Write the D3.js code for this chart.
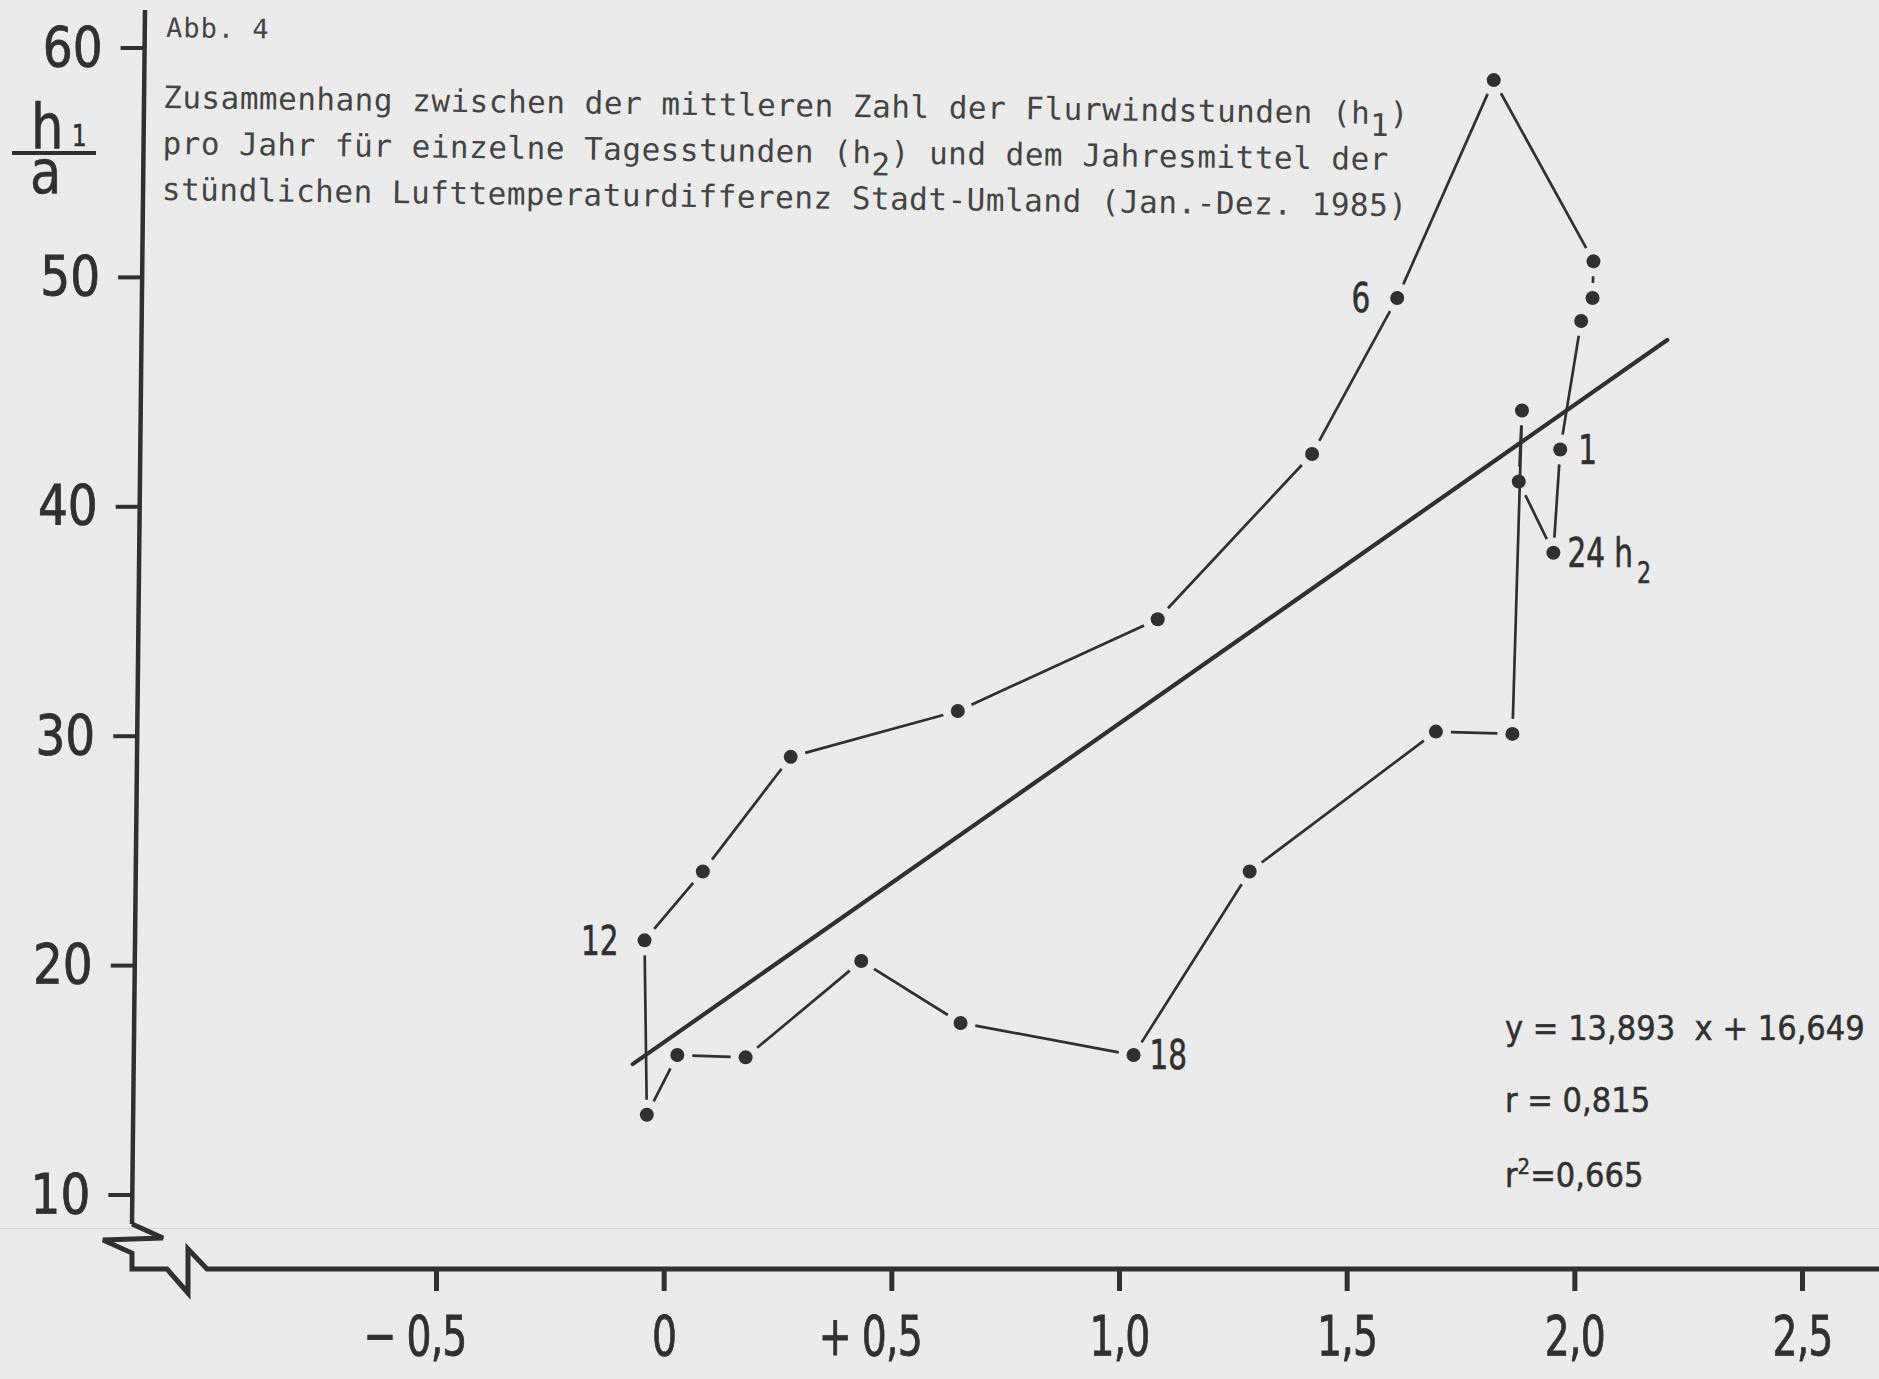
<!DOCTYPE html>
<html>
<head>
<meta charset="utf-8">
<script src="https://cdn.jsdelivr.net/npm/d3@7/dist/d3.min.js"></script>
<style>
  html, body { margin: 0; padding: 0; background: #ebebeb; }
  svg { display: block; }
  .mono { font-family: "DejaVu Sans Mono", "Liberation Mono", monospace; }
  .din { font-family: "DejaVu Sans Condensed", "DejaVu Sans", sans-serif; font-stretch: condensed; }
</style>
</head>
<body>
<div id="chart"></div>
<script>
// hour of the day (h2), 1 ... 24
const hours = [1, 2, 3, 4, 5, 6, 7, 8, 9, 10, 11, 12, 13, 14, 15, 16, 17, 18, 19, 20, 21, 22, 23, 24];
// annual mean of the hourly air temperature difference city - surroundings (K)
const tempDiff = [1.969, 2.015, 2.040, 2.042, 1.823, 1.611, 1.424, 1.085, 0.646, 0.279, 0.086, -0.042,
                  -0.037, 0.030, 0.180, 0.434, 0.652, 1.032, 1.287, 1.696, 1.864, 1.885, 1.878, 1.954];
// mean number of country-breeze hours per year (h1/a)
const windHours = [42.5, 48.1, 49.1, 50.7, 58.6, 49.1, 42.3, 35.1, 31.1, 29.1, 24.1, 21.1,
                   13.5, 16.1, 16.0, 20.2, 17.5, 16.1, 24.1, 30.2, 30.1, 44.2, 41.1, 38.0];

const labelledHours = [1, 6, 12, 18, 24];

// regression line y = 13,893 x + 16,649, drawn over the span of the data
const regSlope = 13.893;
const regIntercept = 16.649;
const regRange = [-0.068, 2.204];
const statLines = ["y = 13,893  x + 16,649", "r = 0,815", "=0,665"];

const xTicks = [-0.5, 0, 0.5, 1.0, 1.5, 2.0, 2.5];
const xTickLabels = ["0,5", "0", "0,5", "1,0", "1,5", "2,0", "2,5"];
const xTickSigns = ["\u2212", "", "+", "", "", "", ""];
const yTicks = [10, 20, 30, 40, 50, 60];

const titleLines = [
  ["Zusammenhang zwischen der mittleren Zahl der Flurwindstunden (h", "1", ")"],
  ["pro Jahr für einzelne Tagesstunden (h", "2", ") und dem Jahresmittel der"],
  ["stündlichen Lufttemperaturdifferenz Stadt-Umland (Jan.-Dez. 1985)", "", ""]
];

const W = 1879, H = 1379;
const ink = "#303030";

const svg = d3.select("#chart").append("svg")
  .attr("width", W)
  .attr("height", H);

svg.append("rect").attr("width", W).attr("height", H).attr("fill", "#ebebeb");
// faint scan line across the sheet
svg.append("line")
  .attr("x1", 0).attr("x2", W).attr("y1", 1228.5).attr("y2", 1228.5)
  .attr("stroke", "#d6d6d6").attr("stroke-width", 1);

const x = d3.scaleLinear().domain([-0.5, 2.5]).range([436, 1802]);
const y = d3.scaleLinear().domain([10, 60]).range([1195, 48]);

const baseY = 1269;
const sx = 0.78; // narrow stencil lettering

// the hand-drawn y axis leans a little to the right at the top
const axisTop = [145, 10], axisBottom = [132, 1224];
const axisXAt = py => axisBottom[0] + (axisBottom[1] - py) * (axisTop[0] - axisBottom[0]) / (axisBottom[1] - axisTop[1]);

// y axis
const ySx = 0.95;
const yAxis = svg.append("g")
  .call(d3.axisLeft(y).tickValues(yTicks).tickSize(24).tickPadding(18));
yAxis.select(".domain").remove();
yAxis.selectAll(".tick").attr("transform", d => `translate(${axisXAt(y(d))},${y(d)})`);
yAxis.selectAll(".tick line").attr("stroke", ink).attr("stroke-width", 4);
yAxis.selectAll(".tick text")
  .attr("class", "din")
  .attr("font-size", 55)
  .attr("fill", ink)
  .attr("stroke", ink)
  .attr("stroke-width", 0.8)
  .attr("x", -42 / ySx)
  .attr("transform", `scale(${ySx},1)`);

svg.append("line")
  .attr("x1", axisTop[0]).attr("y1", axisTop[1])
  .attr("x2", axisBottom[0]).attr("y2", axisBottom[1])
  .attr("stroke", ink).attr("stroke-width", 4.5);

// x axis
const xAxis = svg.append("g")
  .attr("transform", `translate(0,${baseY})`)
  .call(d3.axisBottom(x).tickValues(xTicks).tickSize(22).tickPadding(24)
    .tickFormat((d, i) => xTickLabels[i]));
xAxis.select(".domain").remove();
xAxis.selectAll(".tick line").attr("stroke", ink).attr("stroke-width", 5);
xAxis.selectAll(".tick text")
  .attr("class", "din")
  .attr("font-size", 56)
  .attr("fill", ink)
  .attr("stroke", ink)
  .attr("stroke-width", 0.8)
  .attr("letter-spacing", -1)
  .attr("transform", `scale(${sx},1)`);

xAxis.selectAll(".tick").each(function(d, i) {
  if (!xTickSigns[i]) return;
  const t = d3.select(this).select("text");
  const half = t.node().getComputedTextLength() * sx / 2;
  d3.select(this).append("text")
    .attr("class", "din")
    .attr("font-size", 56)
    .attr("fill", ink)
    .attr("stroke", ink)
    .attr("stroke-width", 0.8)
    .attr("text-anchor", "end")
    .attr("x", -(half + 10) / sx)
    .attr("y", 46)
    .attr("dy", "0.71em")
    .attr("transform", `scale(${sx},1)`)
    .text(xTickSigns[i]);
});

// broken axes corner
const breakPts = [axisBottom, [163, 1238], [103, 1240], [axisBottom[0], 1253], [axisBottom[0], baseY],
                  [167, baseY], [188, 1293], [188, 1249], [207, baseY], [W, baseY]];
svg.append("path")
  .attr("d", d3.line()(breakPts))
  .attr("fill", "none")
  .attr("stroke", ink)
  .attr("stroke-width", 5)
  .attr("stroke-linejoin", "miter");

// y axis unit h1 / a
const unit = svg.append("g").attr("class", "din").attr("fill", ink)
  .attr("stroke", ink).attr("stroke-width", 0.6);
unit.append("text").attr("transform", "translate(31,148) scale(0.92,1)")
  .attr("font-size", 62).text("h");
unit.append("text").attr("transform", "translate(72,146) scale(0.85,1)")
  .attr("font-size", 30).text("1");
unit.append("line").attr("x1", 12).attr("x2", 96).attr("y1", 153).attr("y2", 153)
  .attr("stroke-width", 4);
unit.append("text").attr("transform", "translate(30,193) scale(0.95,1)")
  .attr("font-size", 60).text("a");

// title block (typewriter, slightly skewed on the page)
const title = svg.append("g")
  .attr("class", "mono")
  .attr("fill", "#444444")
  .attr("transform", "rotate(0.75,163,108)");
title.append("text").attr("x", 165).attr("y", 37).attr("font-size", 27)
  .attr("letter-spacing", 1).text("Abb. 4");
titleLines.forEach((ln, i) => {
  const t = title.append("text")
    .attr("x", 163)
    .attr("y", 108 + i * 46)
    .attr("font-size", 31)
    .attr("letter-spacing", 0.5)
    .style("white-space", "pre");
  t.append("tspan").text(ln[0]);
  if (ln[1]) t.append("tspan").attr("dy", 12).text(ln[1]);
  if (ln[2]) t.append("tspan").attr("dy", -12).text(ln[2]);
});

// regression line
svg.append("line")
  .attr("x1", x(regRange[0])).attr("y1", y(regSlope * regRange[0] + regIntercept))
  .attr("x2", x(regRange[1])).attr("y2", y(regSlope * regRange[1] + regIntercept))
  .attr("stroke", ink)
  .attr("stroke-width", 4.2)
  .attr("stroke-linecap", "round");

// daily cycle, hour to hour, with small gaps at the dots
const pts = hours.map((h, i) => ({ h, px: x(tempDiff[i]), py: y(windHours[i]) }));
const gap = 15;
const segs = pts.map((p, i) => [p, pts[(i + 1) % pts.length]]);
svg.append("g").selectAll("line")
  .data(segs.filter(([p, q]) => Math.hypot(q.px - p.px, q.py - p.py) > 2 * gap + 2))
  .join("line")
  .each(function([p, q]) {
    const d = Math.hypot(q.px - p.px, q.py - p.py);
    const ux = (q.px - p.px) / d, uy = (q.py - p.py) / d;
    d3.select(this)
      .attr("x1", p.px + ux * gap).attr("y1", p.py + uy * gap)
      .attr("x2", q.px - ux * gap).attr("y2", q.py - uy * gap);
  })
  .attr("stroke", ink)
  .attr("stroke-width", 2.7);

svg.append("g").selectAll("circle")
  .data(pts)
  .join("circle")
  .attr("cx", d => d.px)
  .attr("cy", d => d.py)
  .attr("r", 7)
  .attr("fill", ink);

// hour labels
const labelPos = { 1: [18, "start"], 6: [-27, "end"], 12: [-26, "end"], 18: [16, "start"], 24: [14, "start"] };
labelledHours.forEach(h => {
  const p = pts[hours.indexOf(h)];
  const [dx, anchor] = labelPos[h];
  const g = svg.append("g").attr("transform", `translate(${p.px + dx},${p.py}) scale(0.82,1)`);
  const t = g.append("text")
    .attr("class", "din")
    .attr("font-size", 40)
    .attr("fill", ink)
    .attr("stroke", ink)
    .attr("stroke-width", 0.6)
    .attr("text-anchor", anchor)
    .attr("dy", "0.36em")
    .style("white-space", "pre")
    .text(String(h));
  if (h === 24) {
    t.append("tspan").text(" h");
    t.append("tspan").attr("dy", 16).attr("dx", 5).attr("font-size", 30).text("2");
  }
});

// regression statistics
const stats = svg.append("g").attr("class", "din").attr("fill", ink).attr("font-size", 34)
  .attr("stroke", ink).attr("stroke-width", 0.5);
stats.append("text").attr("x", 1505).attr("y", 1040).style("white-space", "pre").text(statLines[0]);
stats.append("text").attr("x", 1505).attr("y", 1112).style("white-space", "pre").text(statLines[1]);
const r2 = stats.append("text").attr("x", 1505).attr("y", 1187);
r2.append("tspan").text("r");
r2.append("tspan").attr("dy", -13).attr("font-size", 22).text("2");
r2.append("tspan").attr("dy", 13).text(statLines[2]);
</script>
</body>
</html>
